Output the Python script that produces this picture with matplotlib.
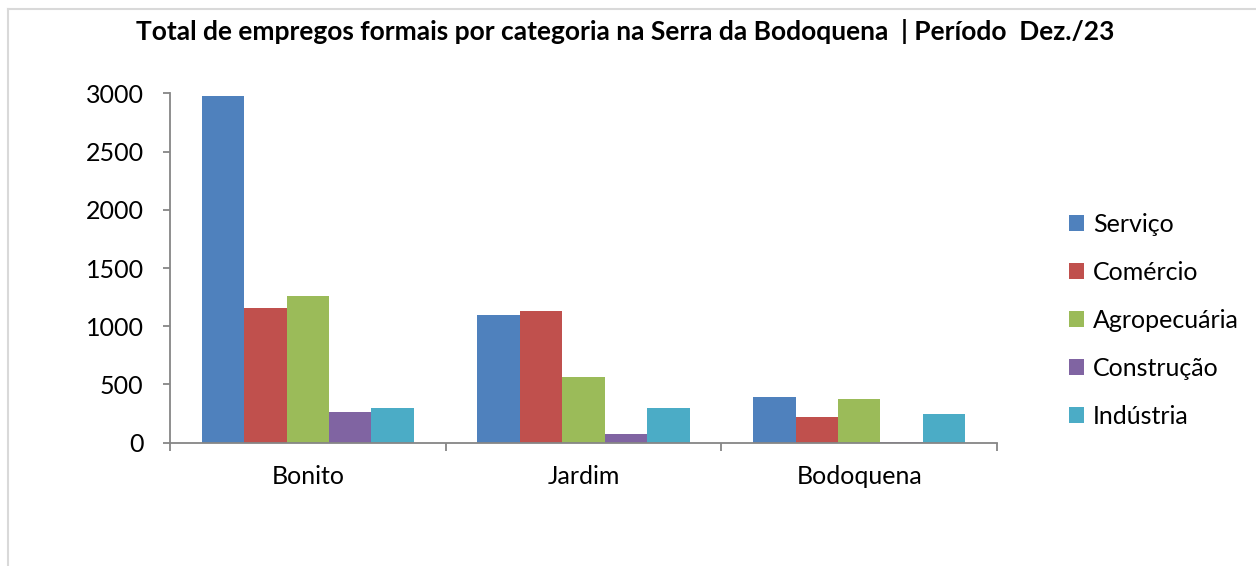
import numpy as np
import matplotlib.pyplot as plt
from matplotlib.lines import Line2D

plt.rcParams['font.family'] = ['Lato', 'DejaVu Sans']

# data
cidades = ["Bonito", "Jardim", "Bodoquena"]
categorias = ["Serviço", "Comércio", "Agropecuária", "Construção", "Indústria"]
servico = [2977, 1094, 395]
comercio = [1159, 1134, 223]
agropecuaria = [1262, 561, 375]
construcao = [266, 74, 5]
industria = [295, 295, 246]
cores = ["#4F81BD", "#C0504D", "#9BBB59", "#8064A2", "#4BACC6"]
yticks = [0, 500, 1000, 1500, 2000, 2500, 3000]

series = [servico, comercio, agropecuaria, construcao, industria]

fig = plt.figure(figsize=(12.56, 5.66), dpi=100)
ax = fig.add_axes([170/1256, 1-442.7/566, (997-170)/1256, (442.7-93.3)/566])

x = np.arange(len(cidades))
w = 1/6.5
for i, (vals, nome) in enumerate(zip(series, categorias)):
    ax.bar(x + (i-2)*w, vals, width=w, color=cores[i], label=nome, linewidth=0)

ax.set_xlim(-0.5, 2.5)
ax.set_ylim(0, 3000)
ax.set_yticks(yticks)
ax.set_yticklabels([str(v) for v in yticks])
ax.set_xticks([-0.5, 0.5, 1.5, 2.5])
ax.set_xticklabels([])
ax.set_xticks(x, minor=True)
ax.set_xticklabels(cidades, minor=True)
ax.tick_params(axis='x', which='minor', length=0, pad=16, labelsize=18)
ax.tick_params(axis='x', which='major', length=6, color='#868686', width=1.3)
ax.tick_params(axis='y', length=5, color='#868686', width=1.3, pad=14, labelsize=18)
for s in ['top', 'right']:
    ax.spines[s].set_visible(False)
for s in ['left', 'bottom']:
    ax.spines[s].set_color('#868686')
    ax.spines[s].set_linewidth(1.3)

fig.text(625/1256, 1-31/566, "Total de empregos formais por categoria na Serra da Bodoquena  | Período  Dez./23",
         ha='center', va='center', fontsize=19, fontweight='bold')

leg = fig.legend(loc='upper left', bbox_to_anchor=(1069/1256, 1-213/566), frameon=False,
                 fontsize=18, handlelength=0.6, handleheight=0.6, handletextpad=0.35,
                 labelspacing=1.0, borderaxespad=0, borderpad=0)

# chart border (partially visible)
fig.add_artist(Line2D([7.5/1256, 7.5/1256], [0, 1-9/566], color='#d9d9d9', linewidth=1.5))
fig.add_artist(Line2D([7.5/1256, 1], [1-9/566, 1-9/566], color='#d9d9d9', linewidth=1.5))

fig.savefig("out.png", dpi=100)
